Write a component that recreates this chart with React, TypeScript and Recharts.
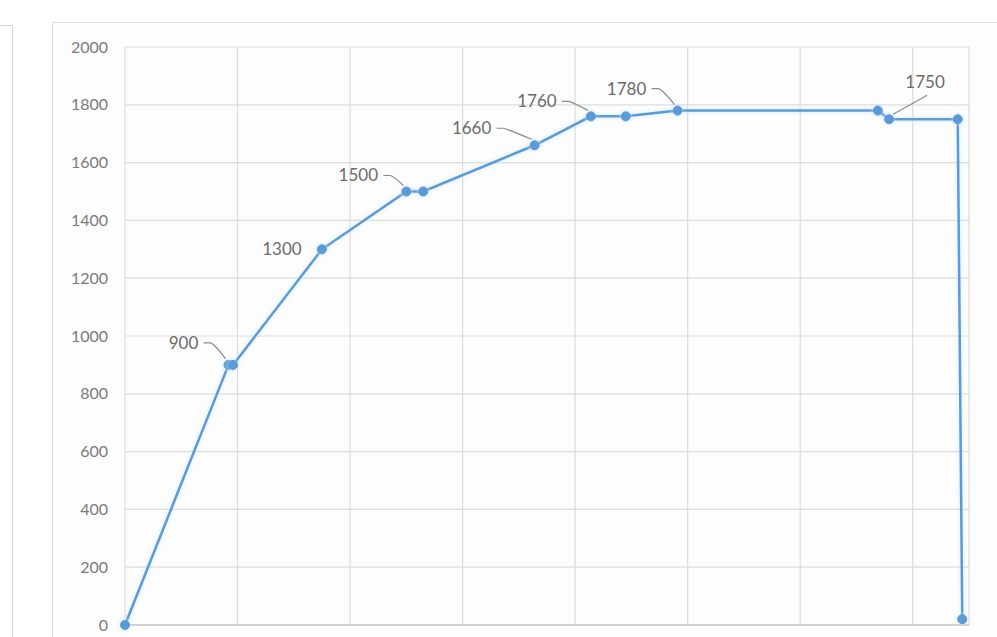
import { LineChart, Line, XAxis, YAxis, CartesianGrid, LabelList } from 'recharts';

// x positions (in gridline units) and values
const xs = [0, 0.92, 0.96, 1.75, 2.5, 2.65, 3.64, 4.14, 4.45, 4.91, 6.69, 6.79, 7.4, 7.44];
const ys = [0, 900, 900, 1300, 1500, 1500, 1660, 1760, 1760, 1780, 1780, 1750, 1750, 20];
const labels = ['', '900', '', '1300', '1500', '', '1660', '1760', '', '1780', '', '1750', '', ''];

const yTicks = [0, 200, 400, 600, 800, 1000, 1200, 1400, 1600, 1800, 2000];
const xTicks = [0, 1, 2, 3, 4, 5, 6, 7];

const data = xs.map((x, i) => ({ x, y: ys[i], label: labels[i] }));

const LINE = '#5b9bd5';
const GRID = '#dcdcdc';
const TEXT = '#6b6b6b';

// where each data label sits relative to its point
const labelPos: Record<string, { dx: number; dy: number; leader: 'left' | 'right' | 'none' }> = {
  '900': { dx: -45, dy: -22, leader: 'left' },
  '1300': { dx: -40, dy: 0, leader: 'none' },
  '1500': { dx: -48, dy: -16, leader: 'left' },
  '1660': { dx: -63, dy: -17, leader: 'left' },
  '1760': { dx: -54, dy: -15, leader: 'left' },
  '1780': { dx: -51, dy: -22, leader: 'left' },
  '1750': { dx: 36, dy: -37, leader: 'right' },
};

const renderLabel = (props: any) => {
  const { x, y, value } = props;
  if (!value || !labelPos[value]) return null;
  const p = labelPos[value];
  const half = value.length * 5;
  let path = '';
  if (p.leader === 'left') {
    const sx = x + p.dx + half + 5;
    const sy = y + p.dy;
    path = `M${sx},${sy} L${sx + 7},${sy} Q${sx + 11},${sy + 1} ${x - 3},${y - 6}`;
  } else if (p.leader === 'right') {
    path = `M${x + 38},${y - 24} L${x + 4},${y - 5}`;
  }
  return (
    <g>
      {path && <path d={path} fill="none" stroke="#8c8c8c" strokeWidth={1.2} />}
      <text x={x + p.dx} y={y + p.dy} dy="0.35em" textAnchor="middle" fill={TEXT} fontSize={17} fontFamily="Lato, sans-serif">
        {value}
      </text>
    </g>
  );
};

// x tick labels are cut off by the bottom of the picture, so draw none
const emptyTick = () => <g />;

export default function App() {
  return (
    <div style={{ position: 'absolute', left: 0, top: 0, width: 997, height: 637, overflow: 'hidden', background: '#fff' }}>
      <div style={{ position: 'absolute', left: -20, top: 25, width: 32, height: 700, borderTop: '1px solid #d6d6d6', borderRight: '1px solid #d6d6d6' }} />
      <div style={{ position: 'absolute', left: 52, top: 22, width: 1000, height: 700, border: '1px solid #dedede', background: '#fdfdfd' }} />
      <div style={{ position: 'absolute', left: 0, top: 0 }}>
        <LineChart width={997} height={680} data={data} margin={{ top: 47, right: 28, left: 65, bottom: 0 }}>
          <CartesianGrid stroke={GRID} strokeWidth={1.2} />
          <XAxis
            dataKey="x"
            type="number"
            domain={[0, 7.5]}
            ticks={xTicks}
            tick={emptyTick}
            height={55}
            axisLine={{ stroke: '#c8c8c8', strokeWidth: 1.5 }}
            tickLine={false}
          />
          <YAxis
            type="number"
            domain={[0, 2000]}
            ticks={yTicks}
            width={60}
            axisLine={false}
            tickLine={false}
            tickSize={0}
            tickMargin={17}
            tick={{ fill: '#7a7a7a', fontSize: 16, fontFamily: 'Lato, sans-serif' }}
          />
          <Line
            type="linear"
            dataKey="y"
            stroke={LINE}
            strokeWidth={2.5}
            dot={{ r: 4.5, fill: LINE, stroke: LINE, strokeWidth: 1 }}
            isAnimationActive={false}
            style={{ filter: 'drop-shadow(0 0 2px #cfe6fb)' }}
          >
            <LabelList dataKey="label" content={renderLabel} />
          </Line>
        </LineChart>
      </div>
    </div>
  );
}
